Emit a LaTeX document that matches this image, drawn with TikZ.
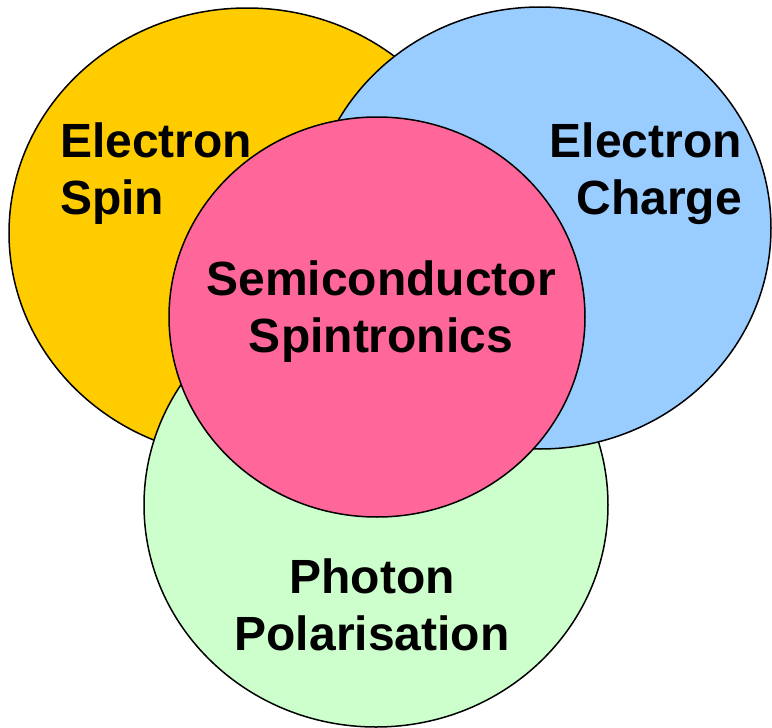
\documentclass[tikz,border=0pt]{standalone}
\usepackage{fontspec}
\setmainfont{Liberation Sans}
\usetikzlibrary{shapes.geometric}
\definecolor{cyellow}{HTML}{FFCC00}
\definecolor{cblue}{HTML}{99CCFF}
\definecolor{cgreen}{HTML}{CCFFCC}
\definecolor{cpink}{HTML}{FF6699}
\begin{document}
\begin{tikzpicture}[x=1pt,y=-1pt,
  circ/.style={ellipse, draw=black, line width=1.5pt, inner sep=0pt},
  lbl/.style={font=\fontsize{48}{57}\selectfont\bfseries, inner sep=0pt}]
\useasboundingbox (0,0) rectangle (772,728);
\node[circ, fill=cyellow, minimum width=476pt, minimum height=450pt] (spin) at (247,233) {};
\node[circ, fill=cgreen, minimum width=464pt, minimum height=444pt] (photon) at (376,505) {};
\node[circ, fill=cblue, minimum width=462pt, minimum height=442pt] (charge) at (540,228) {};
\node[circ, fill=cpink, minimum width=416pt, minimum height=400pt] (semi) at (377,317) {};
\node[lbl, align=left, anchor=north west] (spintxt) at (60,123) {Electron\\Spin};
\node[lbl, align=right, anchor=north east] (chargetxt) at (742,123) {Electron\\Charge};
\node[lbl, align=center, anchor=north] (semitxt) at (381,261) {Semiconductor\\Spintronics};
\node[lbl, align=center, anchor=north] (phototxt) at (372,559) {Photon\\Polarisation};
\end{tikzpicture}
\end{document}
